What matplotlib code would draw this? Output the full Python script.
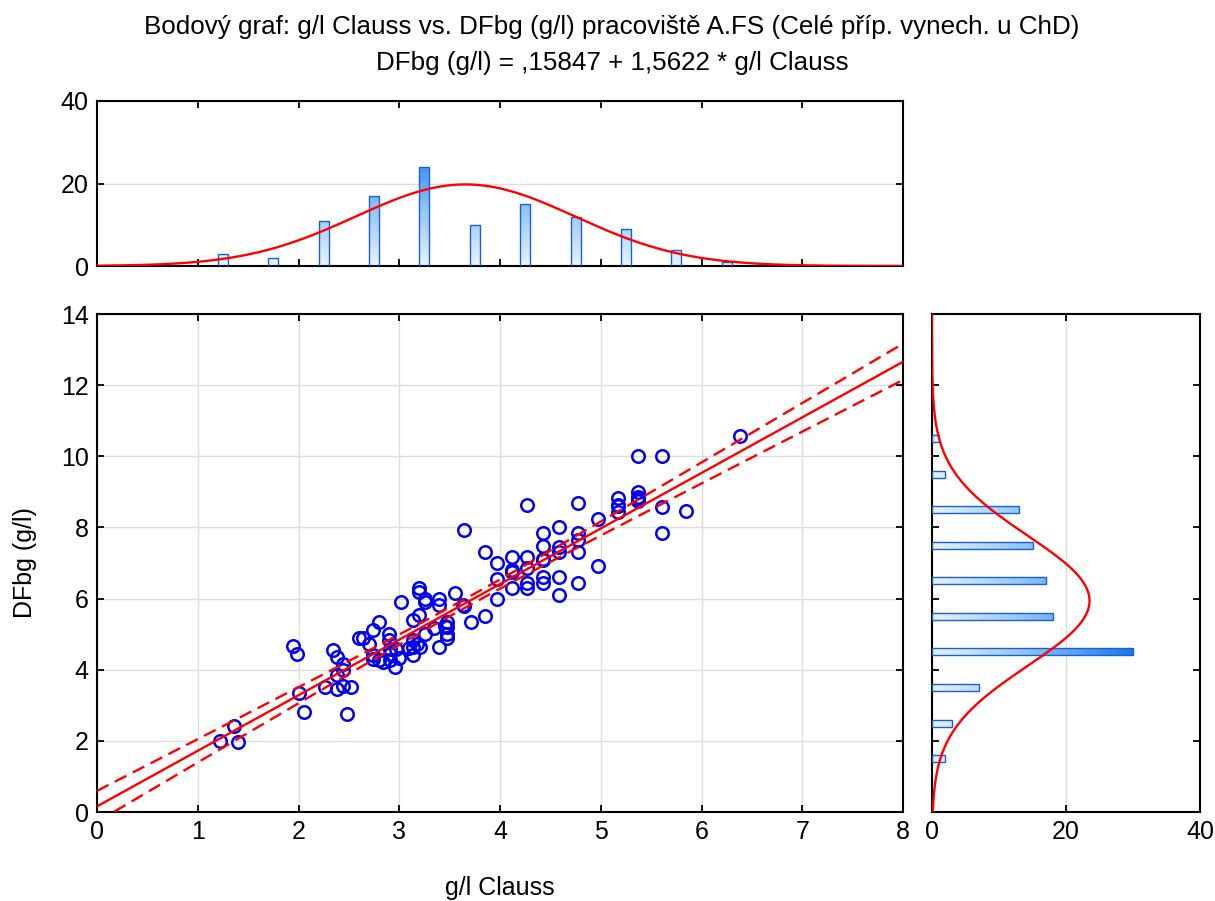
import matplotlib
matplotlib.use("Agg")
import matplotlib.pyplot as plt
import numpy as np
from matplotlib.colors import LinearSegmentedColormap, Normalize

plt.rcParams['font.family'] = ['Liberation Sans', 'DejaVu Sans']

# scatter data (g/l Clauss, DFbg g/l)
clauss = [1.22, 1.36, 1.40, 1.95, 1.99,
          2.00, 2.05, 2.26, 2.34, 2.38, 2.44, 2.38, 2.38, 2.44, 2.48, 2.44,
          2.52, 2.60, 2.64, 2.70, 2.74, 2.80, 2.74, 2.80, 2.74, 2.90, 2.90, 2.91, 2.91, 2.91, 2.96, 2.97, 2.84,
          3.00, 3.02, 3.14, 3.20, 3.14, 3.14, 3.14, 3.20, 3.20, 3.26, 3.26, 3.26, 3.21, 3.34, 3.39, 3.39,
          3.39, 3.47, 3.47, 3.47, 3.47, 3.18, 3.10, 3.45,
          3.55, 3.63, 3.64, 3.71, 3.85, 3.85, 3.97, 3.97, 3.97, 3.64,
          4.12, 4.12, 4.12, 4.12, 4.27, 4.27, 4.27, 4.27, 4.27, 4.43, 4.43, 4.43, 4.43, 4.43, 4.43,
          4.59, 4.59, 4.59, 4.59, 4.59, 4.77, 4.77, 4.77, 4.77, 4.77, 4.97, 4.97,
          5.17, 5.17, 5.17, 5.37, 5.37, 5.37, 5.37, 5.17, 5.37,
          5.61, 5.61, 5.61, 5.85, 6.38]
dfbg = [2.00, 2.42, 1.98, 4.67, 4.44,
        3.35, 2.81, 3.51, 4.55, 4.36, 4.16, 3.85, 3.46, 3.54, 2.76, 4.00,
        3.51, 4.89, 4.89, 4.72, 5.12, 5.34, 4.30, 4.27, 4.41, 5.00, 4.84, 4.58, 4.44, 4.27, 4.08, 4.58, 4.22,
        4.33, 5.90, 5.40, 5.54, 4.84, 4.64, 4.41, 6.30, 6.19, 6.00, 5.90, 5.00, 4.64, 5.17, 6.00, 5.82,
        4.64, 5.34, 5.20, 5.00, 4.89, 4.72, 4.60, 5.24,
        6.16, 5.82, 7.93, 5.34, 7.31, 5.51, 7.00, 6.55, 6.00, 5.78,
        7.17, 6.80, 6.30, 6.75, 8.63, 7.17, 6.86, 6.44, 6.30, 7.84, 7.48, 7.08, 6.61, 6.44, 7.10,
        8.00, 7.45, 7.31, 6.61, 6.10, 8.69, 7.84, 7.65, 7.31, 6.44, 8.24, 6.92,
        8.83, 8.63, 8.44, 10.00, 9.00, 8.85, 8.75, 8.60, 8.80,
        10.00, 8.58, 7.84, 8.46, 10.58]

# regression from the title
intercept = 0.15847
slope = 1.5622
t_crit = 1.9826

# histogram counts
x_bins = [1.25, 1.75, 2.25, 2.75, 3.25, 3.75, 4.25, 4.75, 5.25, 5.75, 6.25]
x_counts = [3, 2, 11, 17, 24, 10, 15, 12, 9, 4, 1]
y_bins = [1.5, 2.5, 3.5, 4.5, 5.5, 6.5, 7.5, 8.5, 9.5, 10.5]
y_counts = [2, 3, 7, 30, 18, 17, 15, 13, 2, 1]

x = np.array(clauss)
y = np.array(dfbg)
n = len(x)

fig = plt.figure(figsize=(12.15, 9.01), dpi=100)
W, H = 1215, 901
ax = fig.add_axes([97 / W, (H - 812) / H, 806 / W, 498 / H])
axt = fig.add_axes([97 / W, (H - 266) / H, 806 / W, 165 / H])
axr = fig.add_axes([932 / W, (H - 812) / H, 268 / W, 498 / H])

cmap = LinearSegmentedColormap.from_list("bl", [(0, "#e8f3ff"), (0.45, "#93c6f7"), (1, "#1a78ee")])
norm = Normalize(0, 30)
edge = "#1a5fd6"

# main scatter
ax.grid(True, color="#dddddd", lw=1)
ax.set_axisbelow(True)
ax.plot(x, y, "o", ms=9, mfc="none", mec="#0000ee", mew=1.8, zorder=3)

xs = np.linspace(0, 8, 200)
fit = intercept + slope * xs
res = y - (intercept + slope * x)
s = np.sqrt(np.sum(res ** 2) / (n - 2))
sxx = np.sum((x - x.mean()) ** 2)
half = t_crit * s * np.sqrt(1 / n + (xs - x.mean()) ** 2 / sxx)
ax.plot(xs, fit, color="red", lw=1.7, zorder=4)
ax.plot(xs, fit + half, color="red", lw=1.7, ls=(0, (5.5, 3)), zorder=4)
ax.plot(xs, fit - half, color="red", lw=1.7, ls=(0, (5.5, 3)), zorder=4)
ax.set_xlim(0, 8)
ax.set_ylim(0, 14)
ax.set_xticks(range(0, 9))
ax.set_yticks(range(0, 15, 2))
ax.set_xlabel("g/l Clauss", fontsize=18)
ax.set_ylabel("DFbg (g/l)", fontsize=18)
ax.xaxis.set_label_coords(0.5, -0.128)
ax.yaxis.set_label_coords(-0.074, 0.5)

# top histogram
bw = 0.1
bars = axt.bar(x_bins, x_counts, width=bw, facecolor="none", edgecolor=edge, lw=1, zorder=3)
for b, h in zip(bars, x_counts):
    g = np.linspace(0, h, 60).reshape(-1, 1)
    im = axt.imshow(g, extent=[b.get_x(), b.get_x() + bw, 0, h], origin="lower",
                    cmap=cmap, norm=norm, aspect="auto", zorder=2)
    im.set_clip_path(b)
gx = np.linspace(0, 8, 300)
mx, sx = x.mean(), x.std(ddof=1)
axt.plot(gx, n * 0.5 / (sx * np.sqrt(2 * np.pi)) * np.exp(-0.5 * ((gx - mx) / sx) ** 2),
         color="red", lw=1.7, zorder=4)
axt.set_xlim(0, 8)
axt.set_ylim(0, 40)
axt.set_xticks(range(0, 9))
axt.set_yticks([0, 20, 40])
axt.set_xticklabels([])
axt.yaxis.grid(True, color="#dddddd", lw=1)
axt.set_axisbelow(True)

# right histogram
bh = 0.2
bars = axr.barh(y_bins, y_counts, height=bh, facecolor="none", edgecolor=edge, lw=1, zorder=3)
for b, w in zip(bars, y_counts):
    g = np.linspace(0, w, 60).reshape(1, -1)
    im = axr.imshow(g, extent=[0, w, b.get_y(), b.get_y() + bh], origin="lower",
                    cmap=cmap, norm=norm, aspect="auto", zorder=2)
    im.set_clip_path(b)
gy = np.linspace(0, 14, 300)
my, sy = y.mean(), y.std(ddof=1)
axr.plot(n * 1.0 / (sy * np.sqrt(2 * np.pi)) * np.exp(-0.5 * ((gy - my) / sy) ** 2), gy,
         color="red", lw=1.7, zorder=4)
axr.set_xlim(0, 40)
axr.set_ylim(0, 14)
axr.set_xticks([0, 20, 40])
axr.set_yticks(range(0, 15, 2))
axr.set_yticklabels([])
axr.xaxis.grid(True, color="#dddddd", lw=1)
axr.set_axisbelow(True)

for a in (ax, axt, axr):
    a.tick_params(direction="in", top=True, right=True, length=5, width=1.3,
                  labelsize=18, pad=6)
    for sp in a.spines.values():
        sp.set_linewidth(1.5)

fig.text(612 / W, 1 - 27 / H, "Bodový graf: g/l Clauss vs. DFbg (g/l) pracoviště A.FS (Celé příp. vynech. u ChD)",
         ha="center", va="center", fontsize=18.7)
fig.text(612 / W, 1 - 63 / H, "DFbg (g/l) = ,15847 + 1,5622 * g/l Clauss",
         ha="center", va="center", fontsize=18.7)

fig.savefig("out.png", dpi=100)
